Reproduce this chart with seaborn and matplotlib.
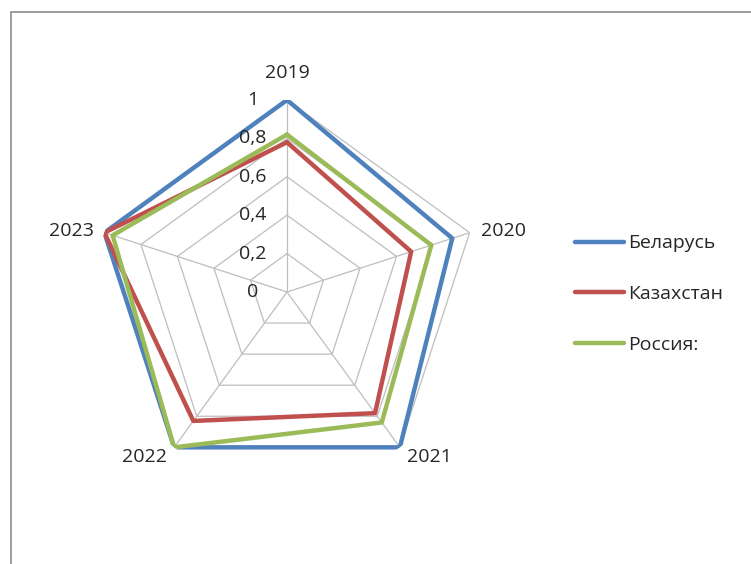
import numpy as np
import pandas as pd
import matplotlib
matplotlib.use("Agg")
import matplotlib.pyplot as plt
import matplotlib.transforms as mtransforms
from matplotlib.patches import Rectangle
import seaborn as sns

# Axis categories (clockwise from the top)
years = ["2019", "2020", "2021", "2022", "2023"]

# Normalised index per country and year
belarus = [1.00, 0.905, 1.00, 1.00, 1.00]
kazakhstan = [0.78, 0.68, 0.78, 0.83, 1.00]
russia = [0.82, 0.79, 0.84, 1.00, 0.955]

countries = ["Беларусь", "Казахстан", "Россия:"]
colors = ["#4F81BD", "#C0504D", "#9BBB59"]

ring_values = [0.2, 0.4, 0.6, 0.8, 1.0]
ring_labels = ["0", "0,2", "0,4", "0,6", "0,8", "1"]

sns.set_theme(style="white")
plt.rcParams["font.family"] = ["Open Sans", "DejaVu Sans"]

n = len(years)
angles = np.linspace(0, 2 * np.pi, n, endpoint=False)
angles_closed = np.append(angles, angles[0])

rows = []
for name, vals in zip(countries, [belarus, kazakhstan, russia]):
    vals_closed = list(vals) + [vals[0]]
    for i, (a, v) in enumerate(zip(angles_closed, vals_closed)):
        rows.append({"country": name, "theta": a, "value": v, "order": i})
df = pd.DataFrame(rows)

W, H = 751, 564
fig = plt.figure(figsize=(W / 100, H / 100), dpi=100)
fig.patch.set_facecolor("white")

cx, cy, R = 287, 292, 192
ax = fig.add_axes([(cx - R) / W, (H - cy - R) / H, 2 * R / W, 2 * R / H],
                  projection="polar")
ax.set_theta_offset(np.pi / 2)
ax.set_theta_direction(-1)
ax.set_ylim(0, 1)
ax.grid(False)
ax.spines["polar"].set_visible(False)
ax.set_facecolor("none")

# Pentagonal grid and spokes
grid_color = "#BEBEBE"
for r in ring_values:
    ax.plot(angles_closed, [r] * (n + 1), color=grid_color, lw=0.9, zorder=1)
for a in angles:
    ax.plot([a, a], [0, 1], color=grid_color, lw=0.9, zorder=1)

sns.lineplot(data=df, x="theta", y="value", hue="country", palette=colors,
             hue_order=countries, sort=False, estimator=None, units="country",
             lw=3.2, ax=ax, zorder=3)

ax.set_xticks([])
ax.set_yticks([])
ax.set_xlabel("")
ax.set_ylabel("")

text_color = "#262626"
fs = 14

# Radial scale labels left of the top spoke
rad_tr = mtransforms.offset_copy(ax.transData, fig=fig, x=-34, y=0, units="dots")
for r, lab in zip([0.0] + ring_values, ring_labels):
    ax.text(0, r, lab, transform=rad_tr, ha="center", va="center",
            fontsize=fs, color=text_color, zorder=5)

# Category labels around the outer ring
offsets = [(0, 27, "center"), (11, 2, "left"), (7, -10, "left"),
           (-7, -10, "right"), (-11, 2, "right")]
for a, lab, (dx, dy, ha) in zip(angles, years, offsets):
    tr = mtransforms.offset_copy(ax.transData, fig=fig, x=dx, y=dy, units="dots")
    ax.text(a, 1.0, lab, transform=tr, ha=ha, va="center",
            fontsize=fs, color=text_color, zorder=5)

sns.move_legend(ax, loc="center left", bbox_to_anchor=(575 / W, 1 - 294 / H),
                bbox_transform=fig.transFigure, frameon=False, title=None,
                fontsize=fs, handlelength=2.5, handletextpad=0.25,
                labelspacing=1.68, borderpad=0, borderaxespad=0)
leg = ax.get_legend()
for t in leg.get_texts():
    t.set_color(text_color)
for h in leg.get_lines():
    h.set_linewidth(3.2)

# Outer chart frame
fig.patches.append(Rectangle((11 / W, -0.1), 1.2, 1 - 12 / H + 0.1,
                             transform=fig.transFigure, fill=False,
                             edgecolor="#8C8C8C", lw=1.2))

fig.savefig("out.png", dpi=100, facecolor="white")
